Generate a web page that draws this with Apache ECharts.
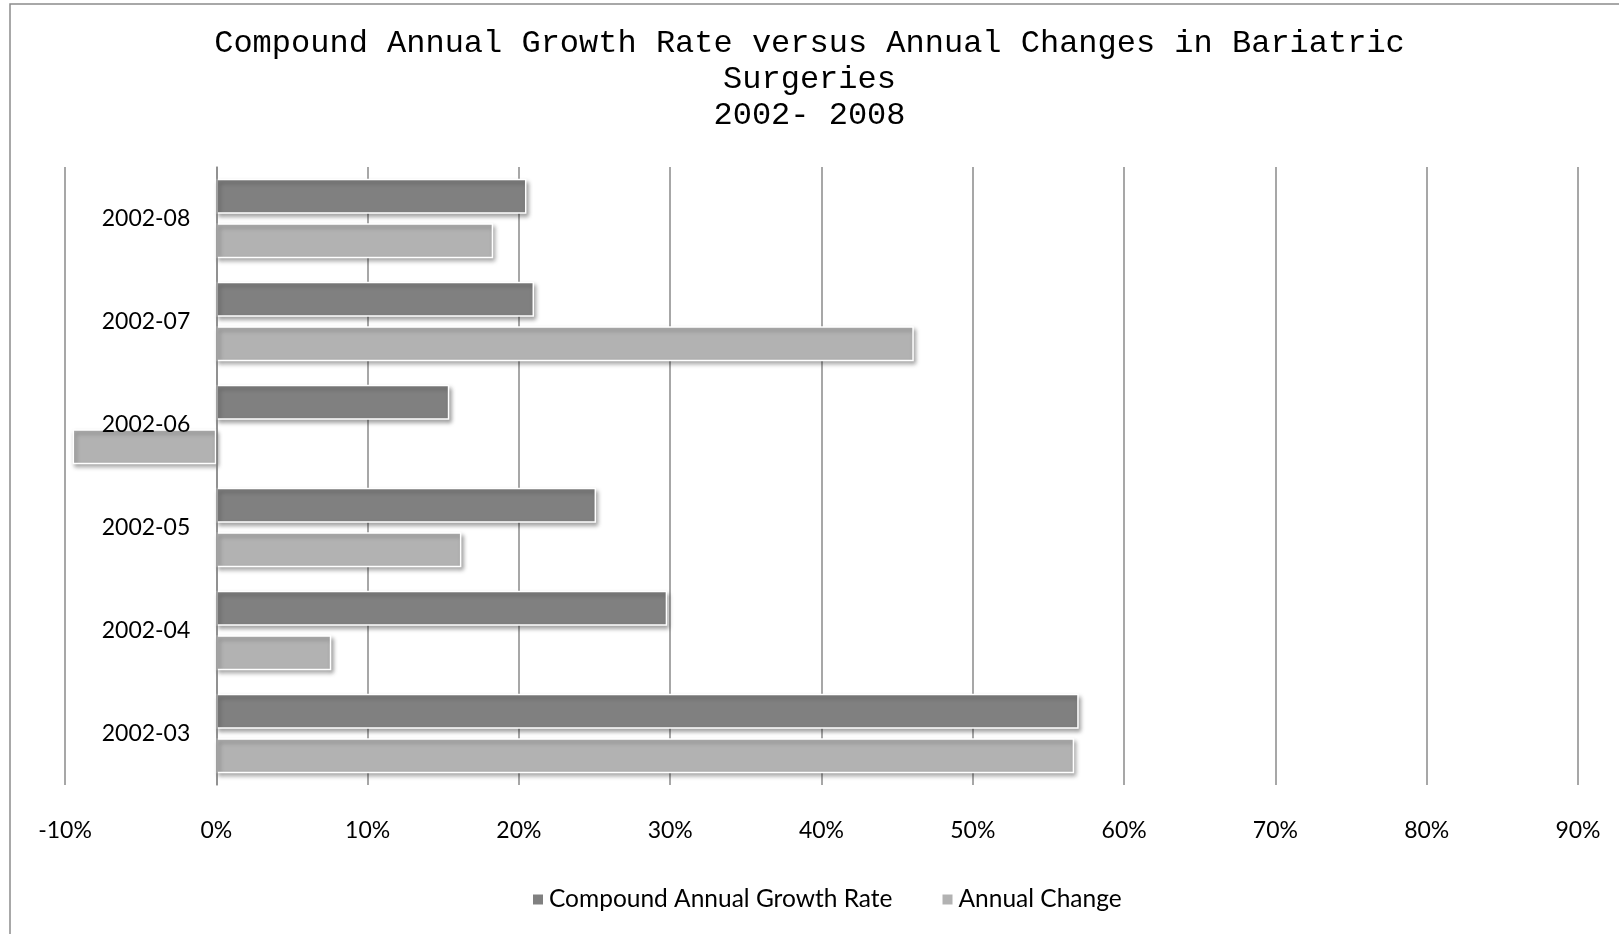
<!DOCTYPE html>
<html>
<head>
<meta charset="utf-8">
<title>Compound Annual Growth Rate versus Annual Changes in Bariatric Surgeries</title>
<script src="https://cdn.jsdelivr.net/npm/echarts@6/dist/echarts.min.js"></script>
<style>
  html, body { margin: 0; padding: 0; background: #fff; }
  #chart { width: 1619px; height: 934px; }
</style>
</head>
<body>
<div id="chart"></div>
<script>
// Periods, bottom to top on the category axis
const periods = ['2002-03', '2002-04', '2002-05', '2002-06', '2002-07', '2002-08'];
// Values in percent
const cagr = [57.0, 29.8, 25.1, 15.4, 21.0, 20.5];
const annualChange = [56.7, 7.6, 16.2, -9.5, 46.1, 18.3];
const seriesNames = ['Compound Annual Growth Rate', 'Annual Change'];
const titleLines = ['Compound Annual Growth Rate versus Annual Changes in Bariatric', 'Surgeries', '2002- 2008'];

const CHART_W = 1619;
const GRID = { left: 65, right: 41, top: 167, bottom: 149 };
const X_MIN = -10, X_MAX = 90, X_STEP = 10;
// Shift the category axis from the grid's left edge onto the 0% line
const plotWidth = CHART_W - GRID.left - GRID.right;
const zeroOffset = -((0 - X_MIN) / (X_MAX - X_MIN)) * plotWidth;

const labelFont = 'Lato, "Open Sans", sans-serif';
const barStyle = (color) => ({
  color: color,
  borderColor: '#ffffff',
  borderWidth: 1.5,
  shadowColor: 'rgba(0,0,0,0.35)',
  shadowBlur: 4,
  shadowOffsetX: 2,
  shadowOffsetY: 3
});

const chart = echarts.init(document.getElementById('chart'), null, { renderer: 'canvas' });
chart.setOption({
  backgroundColor: '#ffffff',
  animation: false,
  title: {
    text: titleLines.join('\n'),
    left: 'center',
    top: 21,
    textStyle: {
      fontFamily: '"Courier New", "Liberation Mono", monospace',
      fontSize: 32,
      fontWeight: 'normal',
      lineHeight: 36,
      color: '#000'
    }
  },
  graphic: [{
    type: 'rect',
    shape: { x: 10, y: 4, width: 1640, height: 970 },
    style: { fill: 'none', stroke: '#8c8c8c', lineWidth: 1.5 },
    silent: true
  }],
  legend: {
    data: seriesNames,
    top: 882,
    left: 526,
    icon: 'rect',
    itemWidth: 12,
    itemHeight: 12,
    itemGap: 48,
    textStyle: { fontFamily: labelFont, fontSize: 24.5, color: '#000' }
  },
  grid: Object.assign({ containLabel: false, outerBoundsMode: 'none' }, GRID),
  xAxis: {
    type: 'value',
    min: X_MIN,
    max: X_MAX,
    interval: X_STEP,
    axisLine: { show: false },
    axisTick: { show: false },
    splitLine: { show: true, lineStyle: { color: '#8a8a8a', width: 1.5 } },
    axisLabel: {
      formatter: '{value}%',
      margin: 34,
      fontFamily: labelFont,
      fontSize: 23,
      color: '#000'
    }
  },
  yAxis: {
    type: 'category',
    data: periods,
    z: 5,
    offset: zeroOffset,
    axisLine: { show: true, onZero: false, lineStyle: { color: '#8a8a8a', width: 1.5 } },
    axisTick: { show: false },
    axisLabel: {
      margin: 26,
      fontFamily: labelFont,
      fontSize: 23,
      color: '#000'
    }
  },
  series: [
    {
      name: seriesNames[0],
      type: 'bar',
      data: cagr,
      barCategoryGap: '23%',
      barGap: '28%',
      itemStyle: barStyle('#808080')
    },
    {
      name: seriesNames[1],
      type: 'bar',
      data: annualChange,
      barCategoryGap: '23%',
      barGap: '28%',
      itemStyle: barStyle('#b2b2b2')
    }
  ]
});
</script>
</body>
</html>
